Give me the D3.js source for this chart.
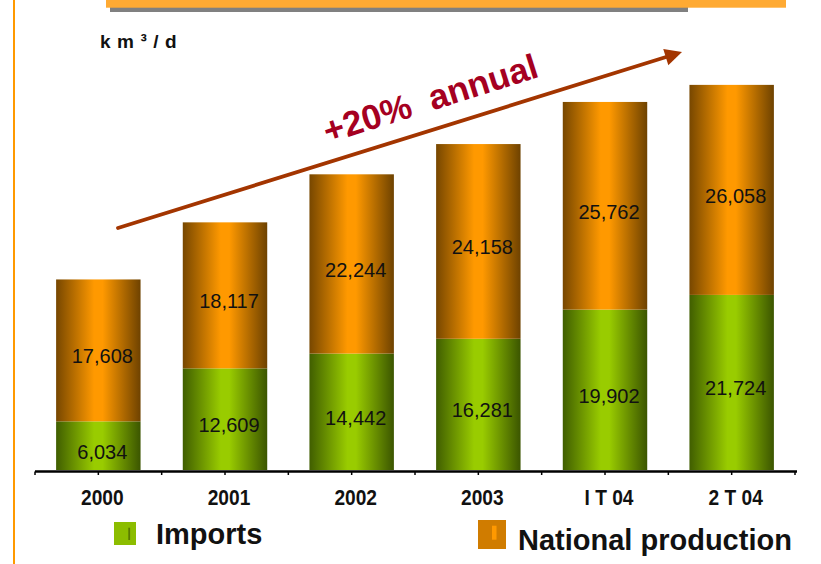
<!DOCTYPE html>
<html>
<head>
<meta charset="utf-8">
<script src="https://cdn.jsdelivr.net/npm/d3@7"></script>
<style>
  html, body { margin: 0; padding: 0; background: #ffffff; }
  svg { display: block; font-family: "Liberation Sans", Arial, sans-serif; }
</style>
</head>
<body>
<svg id="chart" width="821" height="564"></svg>
<script>
// Gas supply, thousand m³ per day
const periods = ["2000", "2001", "2002", "2003", "I T 04", "2 T 04"];
const imports = [6034, 12609, 14442, 16281, 19902, 21724];
const nationalProduction = [17608, 18117, 22244, 24158, 25762, 26058];
const seriesNames = ["Imports", "National production"];
const unitLabel = "k m ³ / d";
const trendLabel = "+20%  annual";

const svg = d3.select("#chart");
const W = 821, H = 564;

const rows = periods.map((p, i) => ({ period: p, imports: imports[i], national: nationalProduction[i] }));
const stack = d3.stack().keys(["imports", "national"]);
const layers = stack(rows);

const x = d3.scaleBand().domain(periods).range([35, 795]).paddingInner(1 / 3).paddingOuter(1 / 6);
const y = d3.scaleLinear().domain([0, 50000]).range([470, 67]);

// Cylinder-like horizontal shading for each series
const defs = svg.append("defs");
function shade(id, edgeL, mid, edgeR) {
  const g = defs.append("linearGradient").attr("id", id)
    .attr("x1", "0%").attr("x2", "100%").attr("y1", "0%").attr("y2", "0%");
  g.append("stop").attr("offset", "0%").attr("stop-color", edgeL);
  g.append("stop").attr("offset", "45%").attr("stop-color", mid);
  g.append("stop").attr("offset", "55%").attr("stop-color", mid);
  g.append("stop").attr("offset", "100%").attr("stop-color", edgeR);
}
shade("gImports", "#405e00", "#99cc00", "#3b5500");
shade("gNational", "#774700", "#ff9900", "#6e4200");
const fills = { imports: "url(#gImports)", national: "url(#gNational)" };

// Left page rule and top banner
svg.append("rect").attr("x", 13).attr("y", 0).attr("width", 2).attr("height", H).attr("fill", "#ff9900");
svg.append("rect").attr("x", 110).attr("y", 7).attr("width", 578).attr("height", 5).attr("fill", "#808080");
svg.append("rect").attr("x", 106).attr("y", 0).attr("width", 680).attr("height", 7.7).attr("fill", "#ffaa33");

// Stacked bars
const barG = svg.append("g");
layers.forEach(layer => {
  barG.selectAll(null).data(layer).enter().append("rect")
    .attr("x", d => x(d.data.period))
    .attr("width", x.bandwidth())
    .attr("y", d => y(d[1]))
    .attr("height", d => y(d[0]) - y(d[1]))
    .attr("fill", fills[layer.key]);
});

// Value labels inside each segment
const fmt = d3.format(",");
layers.forEach(layer => {
  barG.selectAll(null).data(layer).enter().append("text")
    .attr("x", d => x(d.data.period) + x.bandwidth() / 2 + 4)
    .attr("y", d => (y(d[0]) + y(d[1])) / 2 + 6)
    .attr("dy", "0.35em")
    .attr("text-anchor", "middle")
    .attr("font-size", 20)
    .attr("fill", "#111")
    .text(d => fmt(d[1] - d[0]));
});

// Category axis
const axisY = 471.5;
const axG = svg.append("g");
axG.append("line").attr("x1", 35).attr("x2", 797).attr("y1", axisY).attr("y2", axisY)
  .attr("stroke", "#000").attr("stroke-width", 2.4);
const step = x.step();
const bounds = d3.range(periods.length + 1).map(i => x.range()[0] + i * step);
const centers = periods.map(p => x(p) + x.bandwidth() / 2);
axG.selectAll(null).data(bounds.concat(centers)).enter().append("line")
  .attr("x1", d => d).attr("x2", d => d)
  .attr("y1", axisY).attr("y2", axisY + 3.5)
  .attr("stroke", "#000").attr("stroke-width", 1.5);
axG.selectAll(null).data(periods).enter().append("text")
  .attr("transform", p => `translate(${x(p) + x.bandwidth() / 2 + 4},505) scale(0.87,1)`)
  .attr("text-anchor", "middle")
  .attr("font-size", 22)
  .attr("font-weight", "bold")
  .attr("fill", "#111")
  .text(p => p);

// Unit label
svg.append("text").attr("x", 100).attr("y", 48)
  .attr("font-size", 19).attr("font-weight", "bold").attr("letter-spacing", 0.6)
  .attr("fill", "#111").text(unitLabel);

// Growth trend arrow
const a0 = [118, 228], a1 = [682, 52];
const ang = Math.atan2(a1[1] - a0[1], a1[0] - a0[0]);
const headLen = 17, headHalf = 8.5;
const bx = a1[0] - headLen * Math.cos(ang), by = a1[1] - headLen * Math.sin(ang);
svg.append("line").attr("x1", a0[0]).attr("y1", a0[1]).attr("x2", bx + 2 * Math.cos(ang)).attr("y2", by + 2 * Math.sin(ang))
  .attr("stroke", "#a33500").attr("stroke-width", 3.8).attr("stroke-linecap", "round");
svg.append("path")
  .attr("d", `M${a1[0]},${a1[1]} L${bx - headHalf * Math.sin(ang)},${by + headHalf * Math.cos(ang)} L${bx + headHalf * Math.sin(ang)},${by - headHalf * Math.cos(ang)} Z`)
  .attr("fill", "#a33500");

svg.append("text")
  .attr("transform", "translate(434,110) rotate(-17.5)")
  .attr("text-anchor", "middle")
  .attr("font-size", 35).attr("font-weight", "bold")
  .attr("fill", "#a50021")
  .style("white-space", "pre")
  .text(trendLabel);

// Legend
const legend = [
  { name: seriesNames[0], box: [114, 522, 22, 23], fill: "#8cbd00", mark: [128.3, 527.7, 1.8, 12.3], markFill: "#5a7a00", tx: 156, ty: 544 },
  { name: seriesNames[1], box: [478, 520, 28, 29], fill: "#d07c00", mark: [492, 525.7, 4.5, 14], markFill: "#ff9900", tx: 518, ty: 550 }
];
const lg = svg.append("g");
legend.forEach(l => {
  lg.append("rect").attr("x", l.box[0]).attr("y", l.box[1]).attr("width", l.box[2]).attr("height", l.box[3]).attr("fill", l.fill);
  lg.append("rect").attr("x", l.mark[0]).attr("y", l.mark[1]).attr("width", l.mark[2]).attr("height", l.mark[3]).attr("fill", l.markFill);
  lg.append("text").attr("x", l.tx).attr("y", l.ty)
    .attr("font-size", 29).attr("font-weight", "bold").attr("fill", "#111")
    .text(l.name);
});
</script>
</body>
</html>
